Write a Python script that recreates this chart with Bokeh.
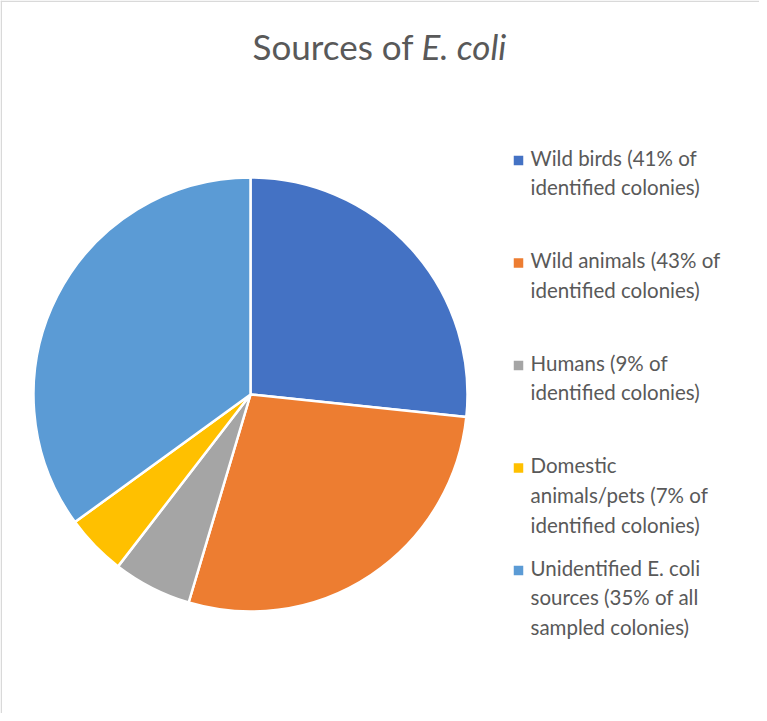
import numpy as np
from bokeh.plotting import figure
from bokeh.models import Range1d, Span, ColumnDataSource
from bokeh.core.properties import value
from bokeh.embed import file_html
from bokeh.resources import INLINE

# ---- data ----
sources = ["Wild birds", "Wild animals", "Humans", "Domestic animals/pets", "Unidentified E. coli sources"]
legend_labels = [
    "Wild birds (41% of\nidentified colonies)",
    "Wild animals (43% of\nidentified colonies)",
    "Humans (9% of\nidentified colonies)",
    "Domestic\nanimals/pets (7% of\nidentified colonies)",
    "Unidentified E. coli\nsources (35% of all\nsampled colonies)",
]
share_of_all = [26.65, 27.95, 5.85, 4.55, 35.0]   # percent of all sampled colonies
colors = ["#4472C4", "#ED7D31", "#A5A5A5", "#FFC000", "#5B9BD5"]

# ---- layout (pixels) ----
W, H = 759, 713
FONT = "Lato"
TXT = "#595959"
cx, cy, R = 250, 319, 217
LFS = 20.5

p = figure(width=W, height=H, output_backend="svg", toolbar_location=None,
           x_range=Range1d(0, W), y_range=Range1d(0, H), min_border=0,
           background_fill_color="white", border_fill_color="white")
p.axis.visible = False
p.grid.visible = False
p.outline_line_color = None

# frame (left and top edges visible)
p.add_layout(Span(location=0.75, dimension="height", line_color="#d9d9d9", line_width=1.5))
p.add_layout(Span(location=H - 0.75, dimension="width", line_color="#d9d9d9", line_width=1.5))

# pie
frac = np.array(share_of_all) / np.sum(share_of_all)
cum = np.concatenate([[0], np.cumsum(frac)])
start = np.pi / 2 - 2 * np.pi * cum[:-1]
end = np.pi / 2 - 2 * np.pi * cum[1:]
src = ColumnDataSource(dict(start=start, end=end, color=colors, name=sources))
p.wedge(x=cx, y=cy, radius=R, start_angle="start", end_angle="end", direction="clock",
        fill_color="color", line_color="white", line_width=2.5, source=src)

# title
p.text(x=[413], y=[668], text=["Sources of"], text_font=value(FONT), text_font_size="35px",
       text_color=TXT, text_align="right", text_baseline="alphabetic")
p.text(x=[421], y=[668], text=["E. coli"], text_font=value(FONT), text_font_size="35px",
       text_font_style="italic", text_color=TXT, text_align="left", text_baseline="alphabetic")

# legend
n = len(legend_labels)
ly = 546 - 102.5 * np.arange(n)
p.scatter(x=[518] * n, y=ly + 7, marker="square", size=9.5, fill_color=colors, line_color=None)
p.text(x=[530] * n, y=ly + 22, text=legend_labels, text_font=value(FONT), text_font_size=f"{LFS}px",
       text_color=TXT, text_align="left", text_baseline="top", text_line_height=30.5 / (1.2 * LFS))

open("out.html", "w").write(file_html(p, INLINE))
